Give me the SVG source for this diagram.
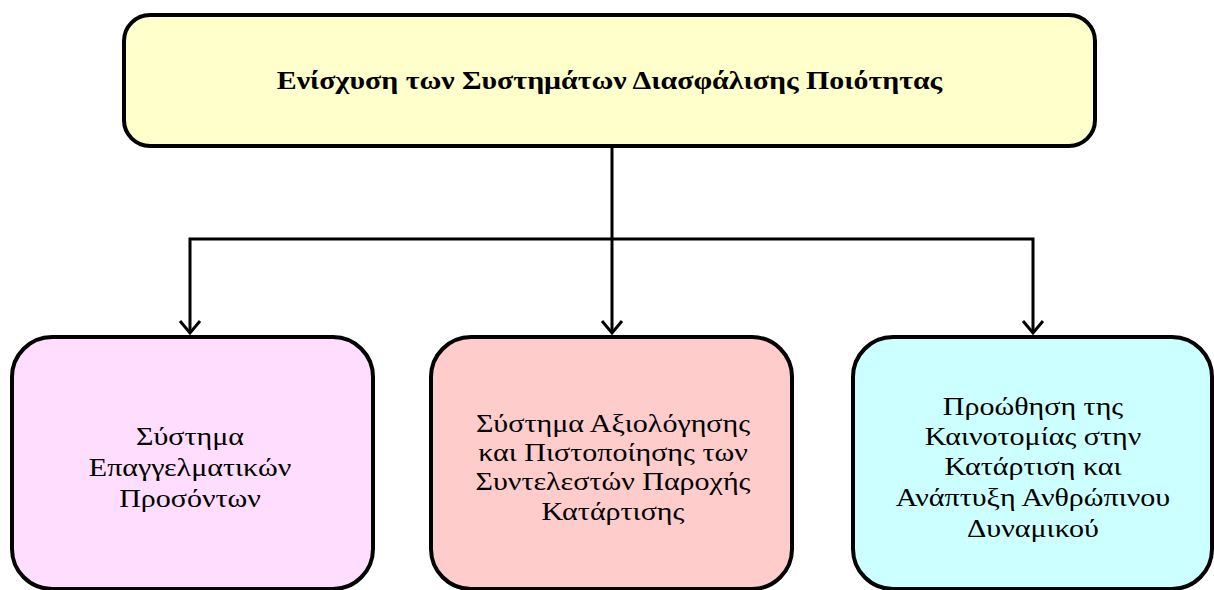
<svg xmlns="http://www.w3.org/2000/svg" width="1214" height="590" viewBox="0 0 1214 590">
<style>
.box{stroke:#000;stroke-width:4}
.t{font-family:"Liberation Serif","Times New Roman",serif;font-size:25px;fill:#000;text-anchor:middle}
.title{font-family:"Liberation Serif","Times New Roman",serif;font-size:26px;font-weight:bold;fill:#000;text-anchor:middle}
.c{stroke:#000;stroke-width:3;fill:none}
</style>
<rect width="1214" height="590" fill="#fff"/>
<g id="connectors">
<line class="c" x1="612" y1="147" x2="612" y2="239"/>
<polyline class="c" points="190,332 190,239 1033,239 1033,332"/>
<line class="c" x1="612" y1="239" x2="612" y2="332"/>
<path d="M180,321 L190,333 L200,321 M602,321 L612,333 L622,321 M1023,321 L1033,333 L1043,321" class="c"/>
</g>
<g id="top">
<rect class="box" x="124" y="15" width="971" height="131" rx="26" fill="#FFFFCC"/>
<text class="title" transform="translate(609.5,89) scale(1.15,1)">Ενίσχυση των Συστημάτων Διασφάλισης Ποιότητας</text>
</g>
<g id="left">
<rect class="box" x="12" y="337" width="361" height="252" rx="40" fill="#FFDDFF"/>
<text class="t" transform="translate(190,445) scale(1.2,1)">Σύστημα</text>
<text class="t" transform="translate(190,476) scale(1.2,1)">Επαγγελματικών</text>
<text class="t" transform="translate(190,507) scale(1.2,1)">Προσόντων</text>
</g>
<g id="middle">
<rect class="box" x="431" y="337" width="361" height="252" rx="40" fill="#FFCCCC"/>
<text class="t" transform="translate(613,432) scale(1.2,1)">Σύστημα Αξιολόγησης</text>
<text class="t" transform="translate(613,461) scale(1.2,1)">και Πιστοποίησης των</text>
<text class="t" transform="translate(613,490) scale(1.2,1)">Συντελεστών Παροχής</text>
<text class="t" transform="translate(613,520) scale(1.2,1)">Κατάρτισης</text>
</g>
<g id="right">
<rect class="box" x="853" y="337" width="359" height="252" rx="40" fill="#CCFFFF"/>
<text class="t" transform="translate(1033,415) scale(1.2,1)">Προώθηση της</text>
<text class="t" transform="translate(1033,445) scale(1.2,1)">Καινοτομίας στην</text>
<text class="t" transform="translate(1033,475) scale(1.2,1)">Κατάρτιση και</text>
<text class="t" transform="translate(1033,506) scale(1.2,1)">Ανάπτυξη Ανθρώπινου</text>
<text class="t" transform="translate(1033,537) scale(1.2,1)">Δυναμικού</text>
</g>
</svg>
